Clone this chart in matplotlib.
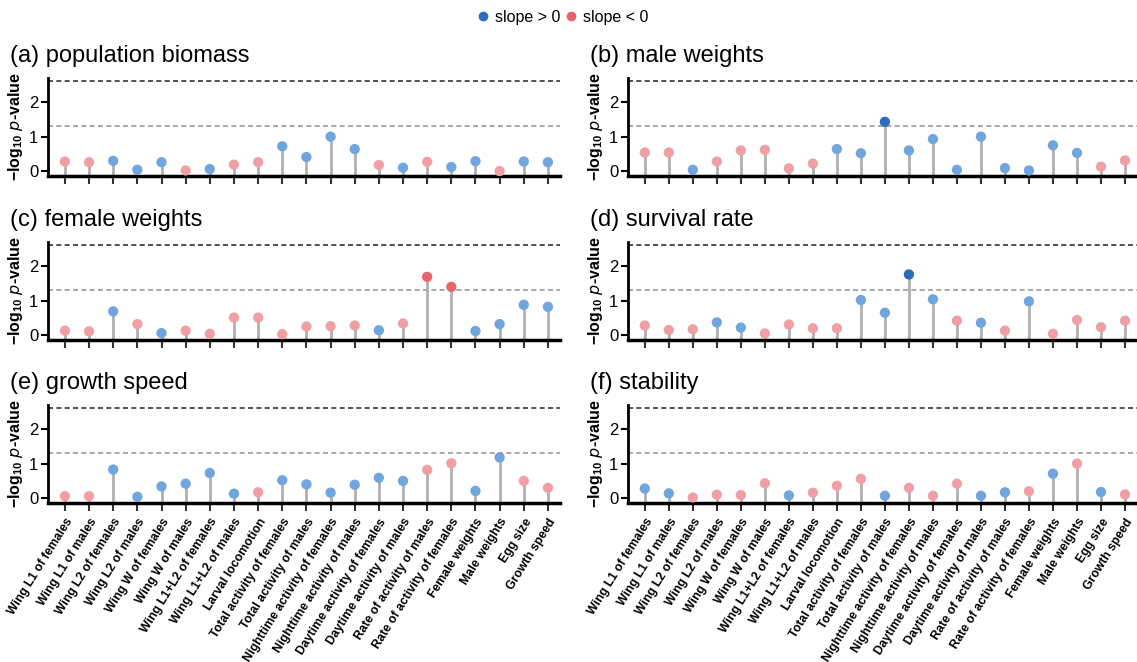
import matplotlib
matplotlib.use("Agg")
import matplotlib.pyplot as plt
from matplotlib.lines import Line2D
import numpy as np

plt.rcParams['font.family'] = ['Liberation Sans', 'DejaVu Sans']
plt.rcParams['mathtext.default'] = 'regular'

traits = ['Wing L1 of females', 'Wing L1 of males', 'Wing L2 of females', 'Wing L2 of males',
          'Wing W of females', 'Wing W of males', 'Wing L1+L2 of females', 'Wing L1+L2 of males',
          'Larval locomotion', 'Total activity of females', 'Total activity of males',
          'Nighttime activity of females', 'Nighttime activity of males',
          'Daytime activity of females', 'Daytime activity of males',
          'Rate of activity of males', 'Rate of activity of females',
          'Female weights', 'Male weights', 'Egg size', 'Growth speed']

titles = ['(a) population biomass', '(b) male weights', '(c) female weights',
          '(d) survival rate', '(e) growth speed', '(f) stability']

# -log10 p-values per trait
biomass = [0.28, 0.26, 0.30, 0.04, 0.26, 0.02, 0.06, 0.19, 0.26, 0.72, 0.41,
           1.00, 0.64, 0.18, 0.10, 0.27, 0.12, 0.29, 0.00, 0.28, 0.26]
male_w = [0.54, 0.54, 0.04, 0.28, 0.60, 0.62, 0.08, 0.22, 0.64, 0.52, 1.43,
          0.60, 0.93, 0.04, 1.00, 0.09, 0.02, 0.75, 0.53, 0.13, 0.31]
female_w = [0.13, 0.11, 0.69, 0.32, 0.06, 0.13, 0.04, 0.51, 0.51, 0.03, 0.25,
            0.26, 0.28, 0.14, 0.34, 1.69, 1.40, 0.12, 0.32, 0.88, 0.82]
survival = [0.28, 0.15, 0.17, 0.37, 0.22, 0.05, 0.31, 0.20, 0.20, 1.02, 0.65,
            1.76, 1.04, 0.42, 0.36, 0.13, 0.98, 0.04, 0.44, 0.23, 0.42]
growth = [0.06, 0.06, 0.83, 0.04, 0.34, 0.42, 0.73, 0.13, 0.17, 0.52, 0.40,
          0.16, 0.39, 0.59, 0.50, 0.82, 1.01, 0.21, 1.18, 0.50, 0.30]
stability = [0.28, 0.14, 0.02, 0.10, 0.09, 0.43, 0.08, 0.16, 0.36, 0.56, 0.07,
             0.30, 0.07, 0.42, 0.07, 0.17, 0.20, 0.71, 1.00, 0.18, 0.11]

# sign of the slope: 1 positive, -1 negative
biomass_sign = [-1, -1, 1, 1, 1, -1, 1, -1, -1, 1, 1, 1, 1, -1, 1, -1, 1, 1, -1, 1, 1]
male_w_sign = [-1, -1, 1, -1, -1, -1, -1, -1, 1, 1, 1, 1, 1, 1, 1, 1, 1, 1, 1, -1, -1]
female_w_sign = [-1, -1, 1, -1, 1, -1, -1, -1, -1, -1, -1, -1, -1, 1, -1, -1, -1, 1, 1, 1, 1]
survival_sign = [-1, -1, -1, 1, 1, -1, -1, -1, -1, 1, 1, 1, 1, -1, 1, -1, 1, -1, -1, -1, -1]
growth_sign = [-1, -1, 1, 1, 1, 1, 1, 1, -1, 1, 1, 1, 1, 1, 1, -1, -1, 1, 1, -1, -1]
stability_sign = [1, 1, -1, -1, -1, -1, 1, -1, -1, -1, 1, -1, -1, -1, 1, 1, -1, 1, -1, 1, -1]

values = [biomass, male_w, female_w, survival, growth, stability]
signs = [biomass_sign, male_w_sign, female_w_sign, survival_sign, growth_sign, stability_sign]

sig_line = -np.log10(0.05)
bonf_line = -np.log10(0.05 / len(traits))

BLUE = '#2b6cbf'
RED = '#e8636a'
BLUE_LIGHT = '#70a5de'
RED_LIGHT = '#f0a0a5'

fig = plt.figure(figsize=(11.37, 6.62), dpi=100)

lefts = [48 / 1137, 628 / 1137]
width_l = [512 / 1137, 509 / 1137]
bottoms = [486 / 662, 322 / 662, 159 / 662]
h = 98 / 662

x = np.arange(len(traits))
for k in range(6):
    row, col = k // 2, k % 2
    ax = fig.add_axes([lefts[col], bottoms[row], width_l[col], h])
    v = np.array(values[k])
    s = np.array(signs[k])
    ymin = -0.14
    ax.vlines(x, ymin, v, color='#b0b0b0', lw=2, zorder=1)
    # significant results (p < 0.05) get the saturated colour
    cols = []
    for vi, si in zip(v, s):
        if si > 0:
            cols.append(BLUE if vi > sig_line else BLUE_LIGHT)
        else:
            cols.append(RED if vi > sig_line else RED_LIGHT)
    ax.scatter(x, v, s=55, c=cols, edgecolors='none', zorder=3)
    ax.axhline(bonf_line, color='#333333', lw=1.2, ls=(0, (3, 2)), zorder=0)
    ax.axhline(sig_line, color='#999999', lw=1.2, ls=(0, (3, 2)), zorder=0)
    ax.set_xlim(-0.7, 20.5)
    ax.set_ylim(ymin, 2.7)
    ax.set_yticks([0, 1, 2])
    ax.set_xticks(x)
    for sp in ['top', 'right']:
        ax.spines[sp].set_visible(False)
    ax.spines['left'].set_linewidth(2)
    ax.spines['bottom'].set_linewidth(2.5)
    ax.tick_params(axis='y', direction='out', length=5, width=1.5, labelsize=12, pad=2)
    ax.tick_params(axis='x', direction='out', length=6, width=1.5, color='#333333')
    if row == 2:
        ax.set_xticklabels(traits, rotation=58, ha='right', rotation_mode='anchor',
                           fontsize=8.8, fontweight='bold')
    else:
        ax.set_xticklabels([])
    ax.set_ylabel(r'−log$_{10}$ $\it{p}$-value', fontsize=11.5, fontweight='bold', labelpad=3)
    fig.text(lefts[col] - 38 / 1137, bottoms[row] + h + 22 / 662, titles[k],
             fontsize=17, va='center', ha='left')

# legend across the top
handles = [Line2D([], [], ls='none', marker='o', ms=6, color=BLUE, label='slope > 0'),
           Line2D([], [], ls='none', marker='o', ms=6, color=RED, label='slope < 0')]
fig.legend(handles=handles, loc='center', bbox_to_anchor=(0.494, 0.974), ncol=2,
           frameon=False, fontsize=11.5, handletextpad=0.25, columnspacing=0.2,
           handlelength=1.0)

fig.savefig('out.png', dpi=100)
